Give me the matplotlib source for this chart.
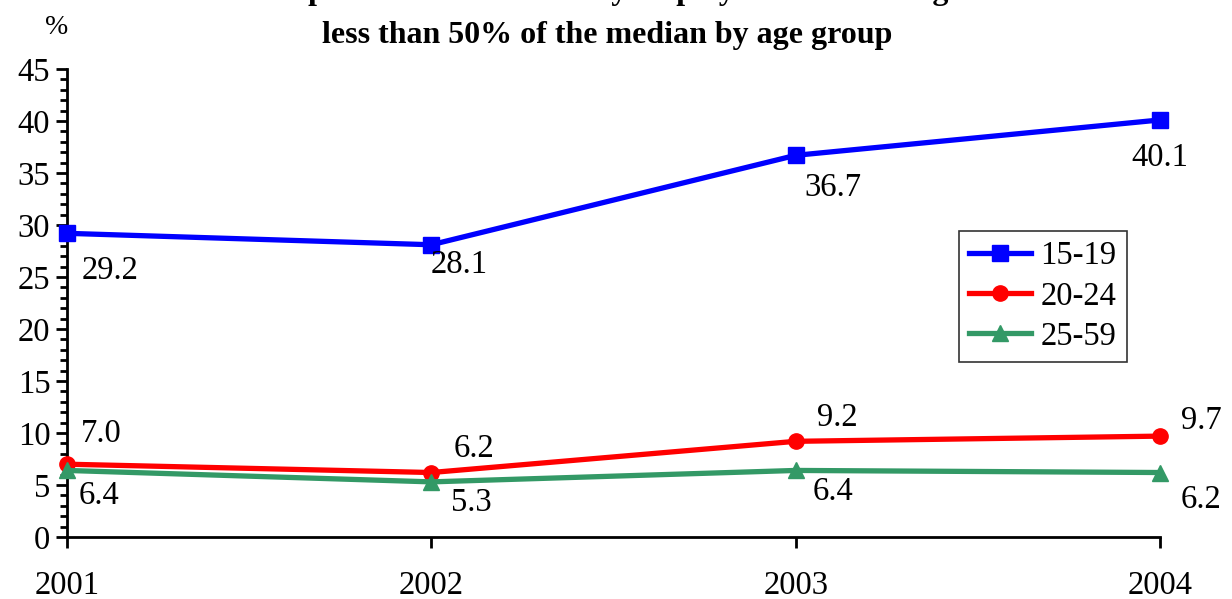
import matplotlib
matplotlib.use('Agg')
import matplotlib.pyplot as plt
from matplotlib.ticker import MultipleLocator

plt.rcParams['font.family'] = 'Liberation Serif'

years = [2001, 2002, 2003, 2004]
age_groups = ['15-19', '20-24', '25-59']
v_15_19 = [29.2, 28.1, 36.7, 40.1]
v_20_24 = [7.0, 6.2, 9.2, 9.7]
v_25_59 = [6.4, 5.3, 6.4, 6.2]

series = [v_15_19, v_20_24, v_25_59]
colors = ['#0000FF', '#FF0000', '#339966']
markers = ['s', 'o', '^']
# label offsets in pixels (dx right, dy up) for each point
offsets = [
    [(43, -37), (28, -20), (37, -32), (0, -38)],
    [(34, 30), (43, 24), (42, 24), (41, 15)],
    [(32, -25), (40, -21), (37, -21), (41, -27)],
]

fs = 23.5

fig = plt.figure(figsize=(12.32, 5.99), dpi=100)
ax = fig.add_axes([67/1232, 62/599, (1160-67)/1232, (537-69)/599])

for vals, name, c, m, offs in zip(series, age_groups, colors, markers, offsets):
    ax.plot(years, vals, color=c, marker=m, lw=3.8, ms=11, label=name, clip_on=False, zorder=3)
    for x, v, (dx, dy) in zip(years, vals, offs):
        ax.annotate('%.1f' % v, (x, v), xytext=(dx*0.72, dy*0.72), textcoords='offset points',
                    ha='center', va='center', fontsize=fs)

ax.set_xlim(2001, 2004)
ax.set_ylim(0, 45)
ax.set_xticks(years)
ax.set_xticklabels([str(y) for y in years])
ax.yaxis.set_major_locator(MultipleLocator(5))
ax.yaxis.set_minor_locator(MultipleLocator(1))
ax.tick_params(axis='both', labelsize=fs, width=2, direction='out')
ax.tick_params(axis='y', which='major', length=8, pad=4)
ax.tick_params(axis='y', which='minor', length=5, width=2)
ax.tick_params(axis='x', length=8, pad=16)
for s in ['top', 'right']:
    ax.spines[s].set_visible(False)
for s in ['left', 'bottom']:
    ax.spines[s].set_linewidth(2)

leg = ax.legend(loc='upper left', bbox_to_anchor=(959/1232, 1 - 231/599), bbox_transform=fig.transFigure,
                fontsize=fs, frameon=True, fancybox=False, edgecolor='black', handlelength=1.9,
                borderpad=0.3, labelspacing=0.3, handletextpad=0.3, borderaxespad=0)
leg.get_frame().set_linewidth(1.2)

# first title line sits mostly above the top edge, as in the original
fig.text(610/1232, 1 + 9/599, 'Proportion of the non-fully employed with earnings',
         ha='center', va='center', fontsize=23, fontweight='bold')
fig.text(607/1232, 1 - 35/599, 'less than 50% of the median by age group',
         ha='center', va='center', fontsize=23, fontweight='bold')
fig.text(57/1232, 1 - 27/599, '%', ha='center', va='center', fontsize=20)

fig.savefig('out.png', dpi=100)
